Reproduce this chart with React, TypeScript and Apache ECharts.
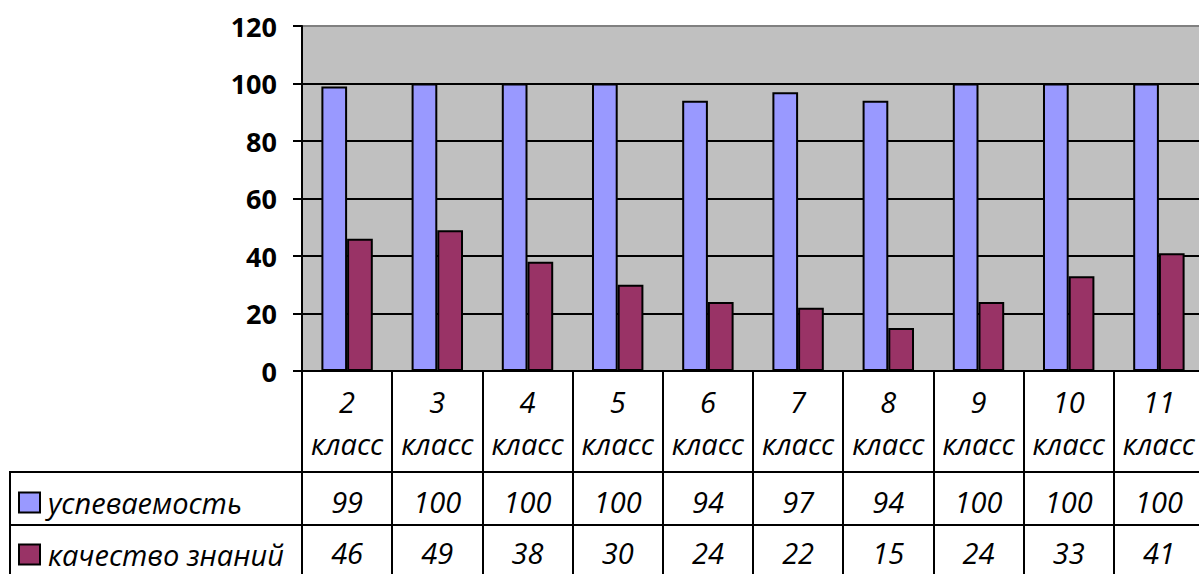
import React, { useEffect, useRef } from "react";
import * as echarts from "echarts";

const categories = ["2", "3", "4", "5", "6", "7", "8", "9", "10", "11"];
const categorySuffix = "класс";
const seriesNames = ["успеваемость", "качество знаний"];
const uspevaemost = [99, 100, 100, 100, 94, 97, 94, 100, 100, 100];
const kachestvo = [46, 49, 38, 30, 24, 22, 15, 24, 33, 41];
const yTicks = [0, 20, 40, 60, 80, 100, 120];

const FONT = "'Open Sans', 'Noto Sans', sans-serif";
const TXT = 29;

export default function App() {
  const ref = useRef<HTMLDivElement>(null);
  useEffect(() => {
    if (!ref.current) return;
    const chart = echarts.init(ref.current, null, { renderer: "svg" });
    const valueAxis = (vals: number[], offset: number) => ({
      type: "category",
      gridIndex: 0,
      position: "bottom",
      offset,
      data: vals.map(String),
      axisLine: { show: false },
      axisTick: { show: false },
      splitLine: { show: false },
      axisLabel: {
        interval: 0,
        margin: 0,
        fontFamily: FONT,
        fontStyle: "italic",
        fontSize: TXT,
        lineHeight: TXT,
        color: "#000",
      },
    });
    const legendItem = (name: string, top: number) => ({
      orient: "vertical",
      left: 18,
      top,
      padding: 0,
      itemWidth: 21,
      itemHeight: 20,
      icon: "rect",
      data: [name],
      itemStyle: { borderColor: "#000", borderWidth: 2 },
      textStyle: {
        fontFamily: FONT,
        fontStyle: "italic",
        fontSize: TXT,
        lineHeight: TXT,
        color: "#000",
        padding: [0, 0, 0, 3],
      },
    });
    const splitColors = yTicks.map((t, i) => (i === yTicks.length - 1 ? "#808080" : "#000"));
    chart.setOption({
      animation: false,
      textStyle: { fontFamily: FONT },
      grid: {
        left: 302,
        top: 26,
        width: 902,
        height: 345,
        show: true,
        backgroundColor: "#C0C0C0",
        borderWidth: 0,
        containLabel: false,
        outerBoundsMode: "none",
      },
      legend: [legendItem(seriesNames[0], 488), legendItem(seriesNames[1], 540)],
      xAxis: [
        {
          type: "category",
          data: categories,
          boundaryGap: true,
          axisLine: { show: true, lineStyle: { color: "#000", width: 2 } },
          axisTick: {
            show: true,
            inside: false,
            length: 215,
            lineStyle: { color: "#000", width: 2 },
          },
          axisLabel: {
            interval: 0,
            margin: 9,
            formatter: (v: string) => v + "\n" + categorySuffix,
            fontFamily: FONT,
            fontStyle: "italic",
            fontSize: TXT,
            lineHeight: 42,
            color: "#000",
          },
          splitLine: { show: false },
        },
        valueAxis(uspevaemost, 116),
        valueAxis(kachestvo, 167),
      ],
      yAxis: {
        type: "value",
        min: 0,
        max: 120,
        interval: 20,
        axisLine: { show: true, lineStyle: { color: "#000", width: 2 } },
        axisTick: { show: true, inside: false, length: 9, lineStyle: { color: "#000", width: 2 } },
        axisLabel: {
          margin: 25,
          fontFamily: FONT,
          fontWeight: "bold",
          fontSize: 27,
          color: "#000",
        },
        splitLine: { show: true, lineStyle: { color: splitColors, width: 2 } },
      },
      graphic: [
        { type: "line", shape: { x1: 10, y1: 472, x2: 1199, y2: 472 }, style: { stroke: "#000", lineWidth: 2 } },
        { type: "line", shape: { x1: 10, y1: 525, x2: 1199, y2: 525 }, style: { stroke: "#000", lineWidth: 2 } },
        { type: "line", shape: { x1: 10, y1: 471, x2: 10, y2: 574 }, style: { stroke: "#000", lineWidth: 2 } },
      ],
      series: [
        {
          name: seriesNames[0],
          type: "bar",
          xAxisIndex: 0,
          data: uspevaemost,
          barGap: "0%",
          barCategoryGap: "43%",
          itemStyle: { color: "#9999FF", borderColor: "#000", borderWidth: 2 },
        },
        {
          name: seriesNames[1],
          type: "bar",
          xAxisIndex: 0,
          data: kachestvo,
          barGap: "0%",
          barCategoryGap: "43%",
          itemStyle: { color: "#993366", borderColor: "#000", borderWidth: 2 },
        },
      ],
    });
    return () => chart.dispose();
  }, []);
  return (
    <div
      ref={ref}
      style={{ position: "fixed", left: 0, top: 0, width: 1199, height: 574, background: "#fff" }}
    />
  );
}
